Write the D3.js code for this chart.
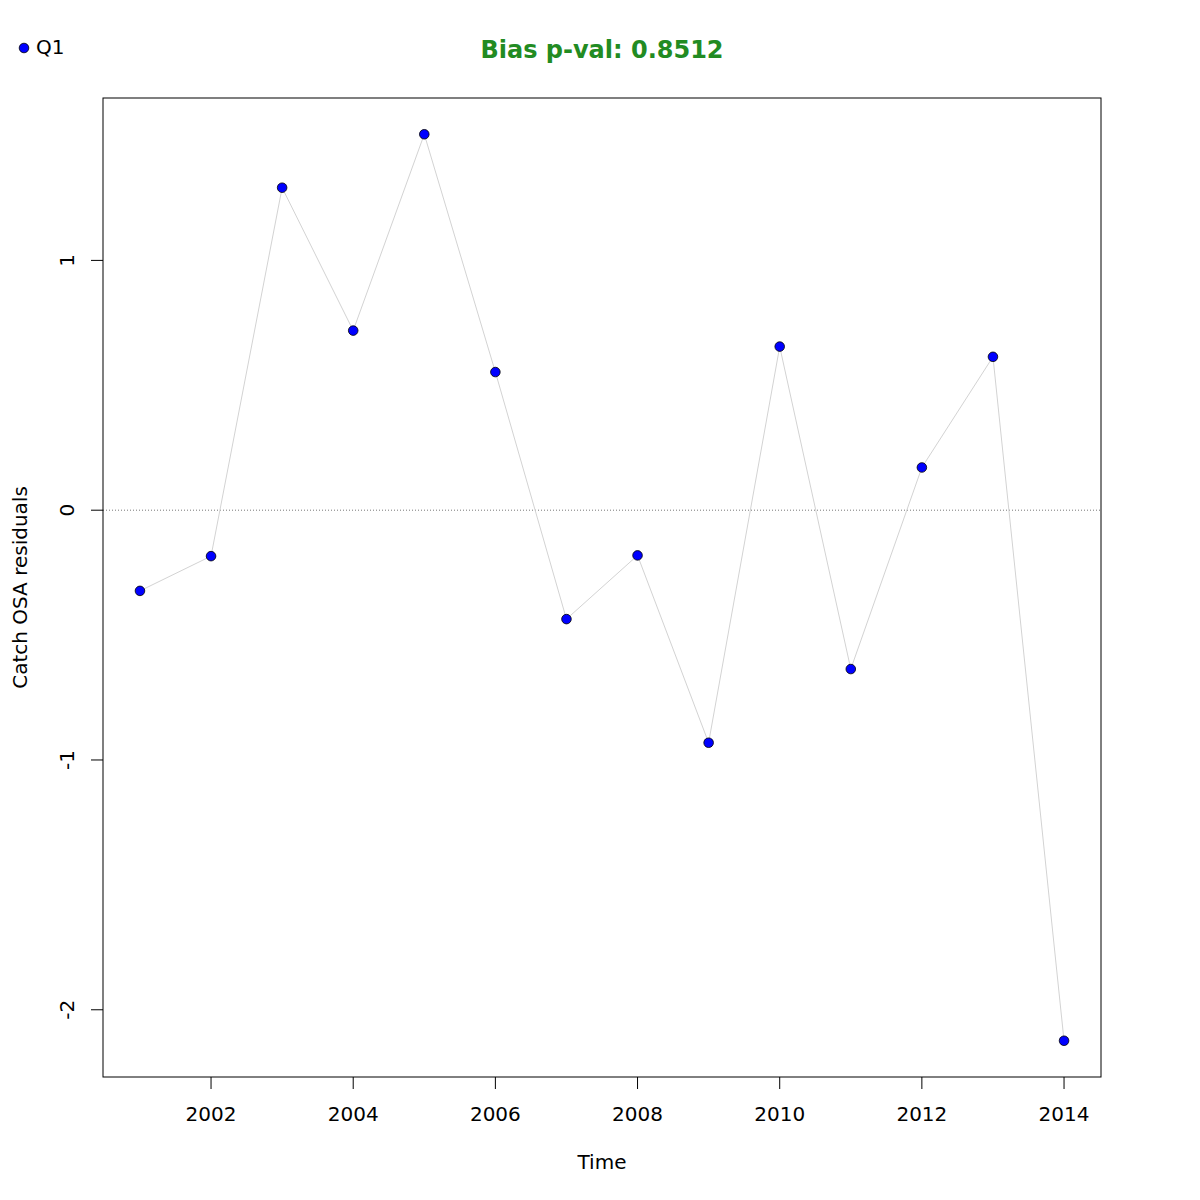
<!DOCTYPE html>
<html><head><meta charset="utf-8">
<script src="https://cdn.jsdelivr.net/npm/d3@7"></script>
<style>body{margin:0;background:#fff}svg{display:block}text{font-family:"DejaVu Sans",sans-serif}</style>
</head><body><svg id="c" width="1200" height="1200"></svg>
<script>
const years = [2001,2002,2003,2004,2005,2006,2007,2008,2009,2010,2011,2012,2013,2014];
const residuals = [-0.323,-0.184,1.291,0.719,1.505,0.553,-0.436,-0.181,-0.931,0.655,-0.636,0.171,0.614,-2.124];
const xTicks = [2002,2004,2006,2008,2010,2012,2014];
const yTicks = [-2,-1,0,1];
const titleText = "Bias p-val: 0.8512";
const legendLabel = "Q1";

const svg = d3.select("#c");
const L=103,R=1101,T=98,B=1077;
const xr = d3.extent(years), yr = d3.extent(residuals);
const xp = (xr[1]-xr[0])*0.04, yp=(yr[1]-yr[0])*0.04;
const x = d3.scaleLinear().domain([xr[0]-xp, xr[1]+xp]).range([L,R]);
const y = d3.scaleLinear().domain([yr[0]-yp, yr[1]+yp]).range([B,T]);

// zero line
svg.append("line").attr("x1",L).attr("x2",R).attr("y1",y(0)).attr("y2",y(0))
  .attr("stroke","#777").attr("stroke-width",1).attr("stroke-dasharray","1,2");

// line
const line = d3.line().x((d,i)=>x(years[i])).y(d=>y(d));
svg.append("path").datum(residuals).attr("d",line).attr("fill","none")
  .attr("stroke","#d3d3d3").attr("stroke-width",1);

svg.selectAll("circle.pt").data(residuals).enter().append("circle")
  .attr("cx",(d,i)=>x(years[i])).attr("cy",d=>y(d)).attr("r",4.8)
  .attr("fill","#0000ff").attr("stroke","#000").attr("stroke-width",0.8);

// box
svg.append("rect").attr("x",L).attr("y",T).attr("width",R-L).attr("height",B-T)
  .attr("fill","none").attr("stroke","#000").attr("stroke-width",1);

// x axis
const xa = svg.append("g");
xTicks.forEach(t=>{
  xa.append("line").attr("x1",x(t)).attr("x2",x(t)).attr("y1",B).attr("y2",B+12).attr("stroke","#000");
  xa.append("text").attr("x",x(t)).attr("y",1121).attr("text-anchor","middle").attr("font-size",20).text(t);
});
// y axis
const ya = svg.append("g");
yTicks.forEach(t=>{
  ya.append("line").attr("x1",L-12).attr("x2",L).attr("y1",y(t)).attr("y2",y(t)).attr("stroke","#000");
  ya.append("text").attr("transform",`translate(74,${y(t)}) rotate(-90)`).attr("text-anchor","middle").attr("font-size",20).text(t);
});

svg.append("text").attr("x",602).attr("y",1169).attr("text-anchor","middle").attr("font-size",20).text("Time");
svg.append("text").attr("transform",`translate(27,${(T+B)/2}) rotate(-90)`).attr("text-anchor","middle").attr("font-size",20).text("Catch OSA residuals");

svg.append("text").attr("x",602).attr("y",58).attr("text-anchor","middle").attr("font-size",24)
  .attr("font-weight","bold").attr("fill","#228b22").text(titleText);

svg.append("circle").attr("cx",24).attr("cy",48).attr("r",4.8).attr("fill","#0000ff").attr("stroke","#000").attr("stroke-width",0.8);
svg.append("text").attr("x",36).attr("y",54).attr("font-size",20).text(legendLabel);
</script></body></html>
